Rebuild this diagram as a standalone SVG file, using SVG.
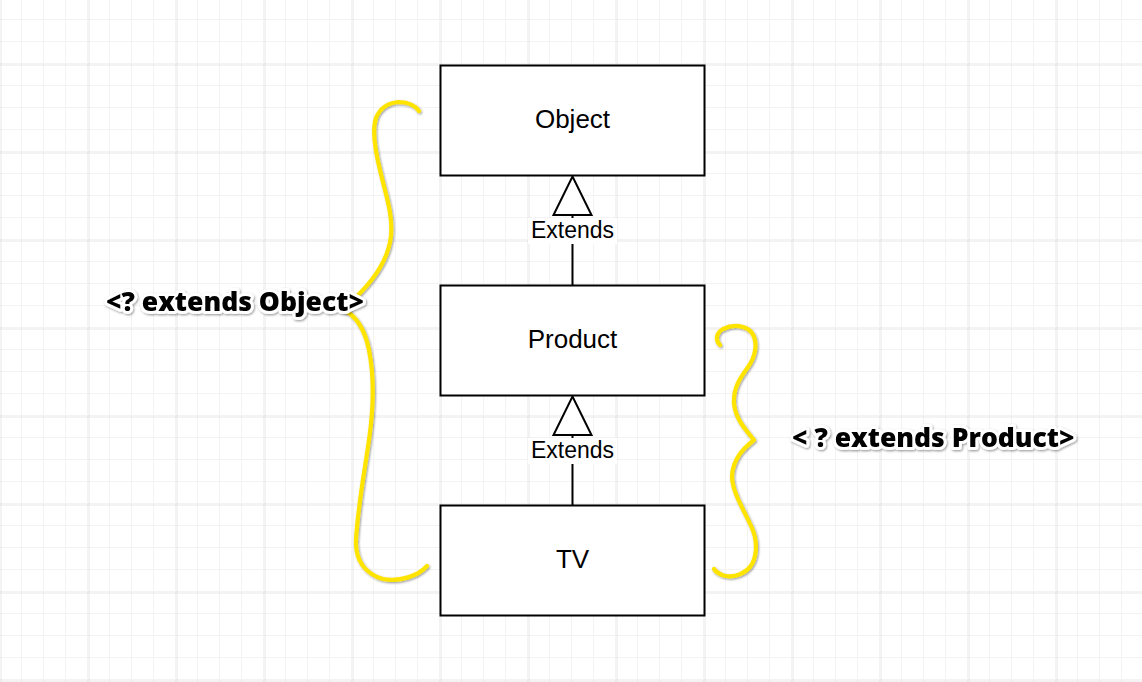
<svg xmlns="http://www.w3.org/2000/svg" width="1142" height="682" viewBox="0 0 1142 682">
  <defs>
    <pattern id="minor" x="0" y="-2" width="22" height="22" patternUnits="userSpaceOnUse">
      <path d="M22 0V22M0 22H22" stroke="#f3f3f3" stroke-width="2" fill="none"/>
    </pattern>
    <pattern id="major" x="0.5" y="64.5" width="88" height="88" patternUnits="userSpaceOnUse">
      <path d="M0 0V88M0 0H88" stroke="#cfcfcf" stroke-width="1" fill="none"/>
    </pattern>
    <filter id="sh" x="-10%" y="-10%" width="120%" height="120%">
      <feDropShadow dx="1" dy="1.2" stdDeviation="0.8" flood-color="#000" flood-opacity="0.4"/>
    </filter>
  </defs>
  <style>
    .box { fill: #ffffff; stroke: #000000; stroke-width: 2; }
    .lbl { font-family: Helvetica, "Liberation Sans", Arial, sans-serif; font-size: 26px; fill: #000; text-anchor: middle; }
    .ext { font-family: Helvetica, "Liberation Sans", Arial, sans-serif; font-size: 23px; fill: #000; text-anchor: middle; }
    .edge { stroke: #000; stroke-width: 2; fill: none; }
    .tri { stroke: #000; stroke-width: 2; fill: #fff; stroke-linejoin: miter; }
    .brace { stroke: #ffe400; stroke-width: 4.2; fill: none; stroke-linecap: round; stroke-linejoin: round; filter: url(#sh); }
    .note { font-family: "Open Sans", "Noto Sans", sans-serif; font-weight: 800; font-size: 26.5px; fill: #000; stroke: #fff; stroke-width: 6; stroke-linejoin: round; paint-order: stroke; filter: url(#sh); }
  </style>
  <rect width="1142" height="682" fill="#ffffff"/>
  <rect width="1142" height="682" fill="url(#minor)"/>
  <rect width="1142" height="682" fill="url(#major)"/>

  <g id="connectors">
    <g id="edge-product-object">
      <line class="edge" x1="572.5" y1="215" x2="572.5" y2="285.5"/>
      <rect x="528" y="218" width="89" height="26" fill="#fff"/>
      <polygon class="tri" points="572.5,176.5 591.5,215 553.5,215"/>
      <text class="ext" x="572.5" y="237.5">Extends</text>
    </g>
    <g id="edge-tv-product">
      <line class="edge" x1="572.5" y1="435" x2="572.5" y2="505.5"/>
      <rect x="528" y="438" width="89" height="26" fill="#fff"/>
      <polygon class="tri" points="572.5,396.5 591.5,435 553.5,435"/>
      <text class="ext" x="572.5" y="457.5">Extends</text>
    </g>
  </g>

  <g id="node-object">
    <rect class="box" x="440.5" y="65.5" width="264" height="110"/>
    <text class="lbl" x="572.5" y="128">Object</text>
  </g>
  <g id="node-product">
    <rect class="box" x="440.5" y="285.5" width="264" height="110"/>
    <text class="lbl" x="572.5" y="348">Product</text>
  </g>
  <g id="node-tv">
    <rect class="box" x="440.5" y="505.5" width="264" height="110"/>
    <text class="lbl" x="572.5" y="568">TV</text>
  </g>

  <g id="brace-object">
    <path class="brace" d="M419 111 C414 104 406 102 398 102 C388 103 380 108 376 118 C372 130 375 150 380 170 C386 196 393 214 391 236 C388 262 372 282 355 298"/>
    <path class="brace" d="M344 310 C356 316 365 330 369 350 C374 375 374 405 369 440 C364 475 358 505 356 540 C355 560 365 574 383 579 C400 582 418 576 427 566"/>
  </g>
  <g id="brace-product">
    <path class="brace" d="M720 345 C715 340 716 333 723 329 C733 324 746 325 752 333 C758 342 756 356 748 367 C740 378 733 388 734 404 C736 420 746 430 754 440 C744 448 733 458 732 476 C732 492 744 510 752 528 C758 542 757 558 750 567 C742 576 730 578 722 575 C718 573 715 571 714 569"/>
  </g>

  <g id="label-object">
    <text class="note" x="106" y="311">&lt;? extends Object&gt;</text>
  </g>
  <g id="label-product">
    <text class="note" x="792" y="447">&lt; ? extends Product&gt;</text>
  </g>
</svg>
